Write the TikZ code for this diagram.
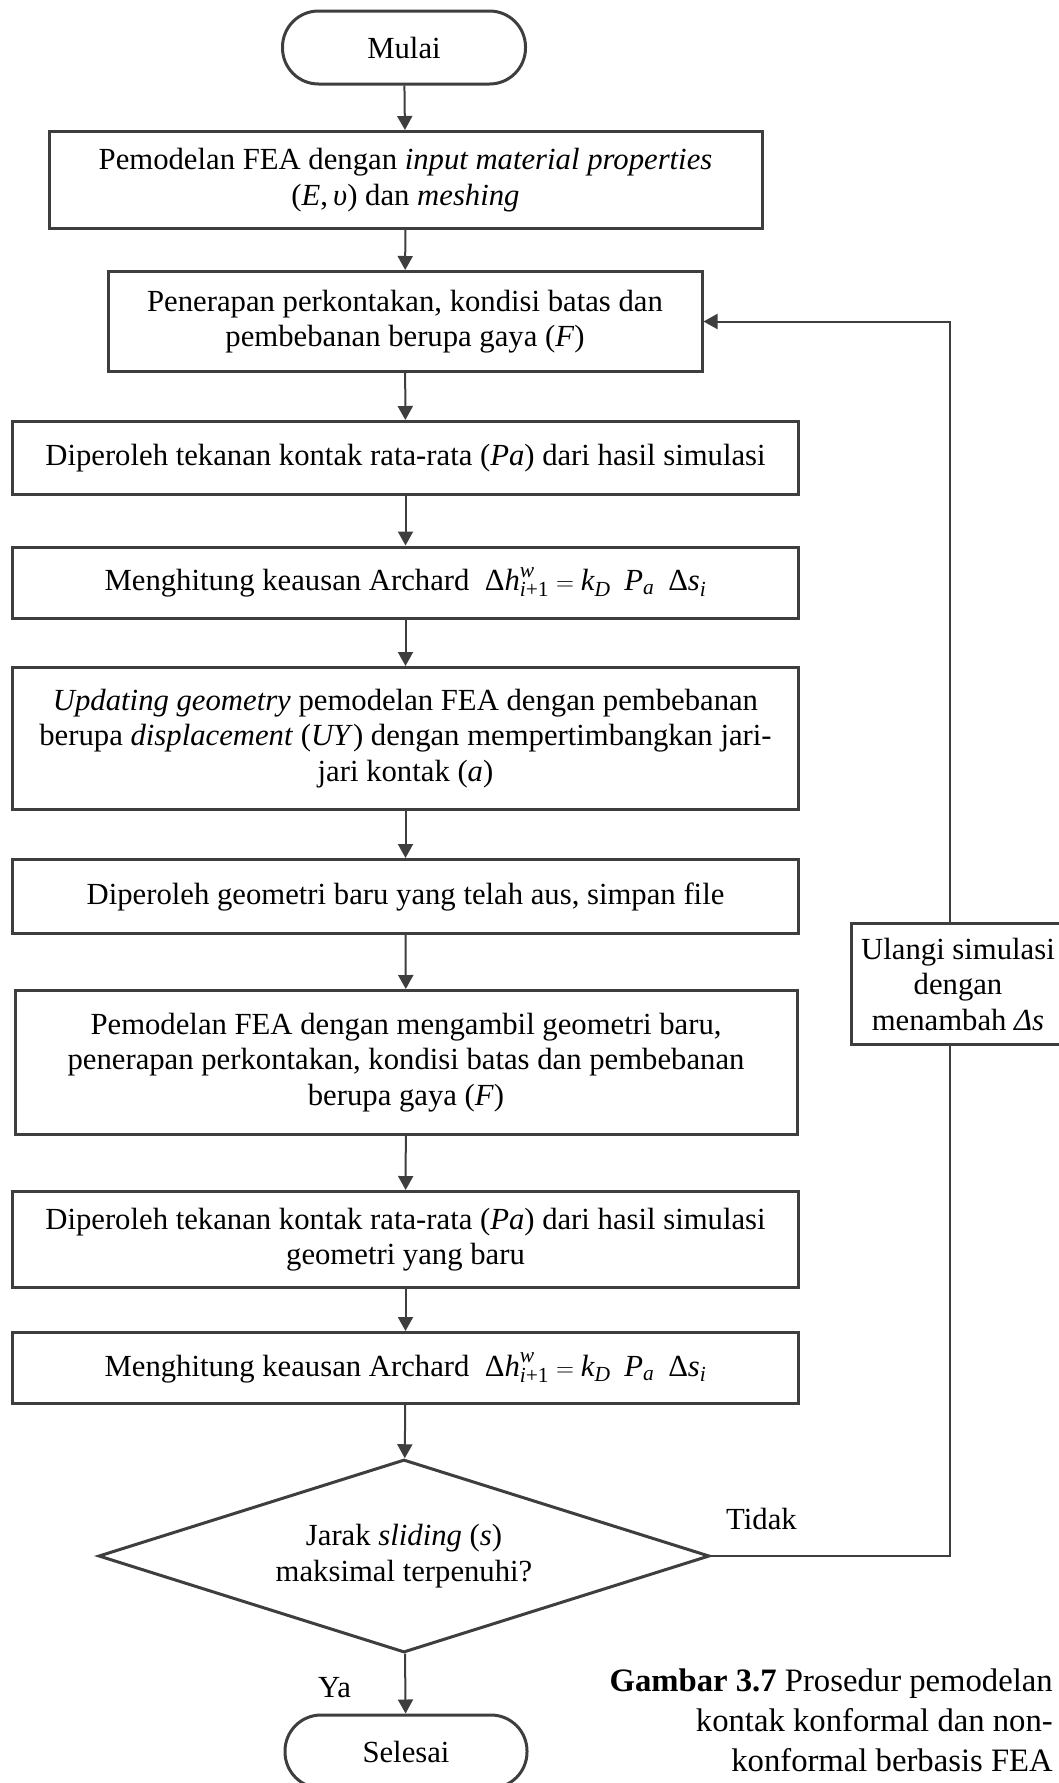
\documentclass[tikz,border=0pt]{standalone}
\usepackage{amsmath}
\usepackage{fontspec}
\setmainfont{Liberation Serif}
\usetikzlibrary{arrows.meta,shapes.geometric}
\definecolor{lc}{RGB}{62,62,62}
\newcommand\archform{$\text{Δ}\textit{h}^{\textit{w}}_{\textit{i}\text{+1}} = \textit{k}_{\textit{D}}\;\;\textit{P}_{\textit{a}}\;\;\text{Δ}\textit{s}_{\textit{i}}$}
\begin{document}
\begin{tikzpicture}[x=1pt,y=-1pt,
  every node/.style={font=\fontsize{30.7}{35.5}\selectfont, text=black},
  proc/.style={draw=lc, line width=3pt, align=center, inner sep=0pt},
  term/.style={draw=lc, line width=3pt, rounded corners=36pt, align=center, inner sep=0pt, minimum width=243pt, minimum height=73pt},
  decide/.style={draw=lc, line width=3pt, shape=diamond, aspect=3.166, align=center, inner sep=0pt},
  arr/.style={draw=lc, line width=2pt, -{Triangle[width=15pt,length=14pt]}},
  lbl/.style={inner sep=0pt, anchor=base west},
]
\useasboundingbox (0,0) rectangle (1059,1783);

\node[term] (start) at (404,47.5) {Mulai};
\node[proc, minimum width=713pt, minimum height=97pt] (b1) at (405.5,180)
  {Pemodelan FEA dengan \textit{input material properties}\\(\textit{E},\,\textit{υ}) dan \textit{meshing}};
\node[proc, minimum width=594pt, minimum height=100pt] (b2) at (405,321.5)
  {Penerapan perkontakan, kondisi batas dan\\pembebanan berupa gaya (\textit{F})};
\node[proc, minimum width=786pt, minimum height=73pt] (b3) at (405.5,458)
  {Diperoleh tekanan kontak rata-rata (\textit{Pa}) dari hasil simulasi};
\node[proc, minimum width=786pt, minimum height=71pt] (b4) at (405.5,582.5)
  {Menghitung keausan Archard \ \archform};
\node[proc, minimum width=786pt, minimum height=142pt] (b5) at (405.5,738.5)
  {\textit{Updating geometry} pemodelan FEA dengan pembebanan\\berupa \textit{displacement} (\textit{UY}) dengan mempertimbangkan jari-\\jari kontak (\textit{a})};
\node[proc, minimum width=786pt, minimum height=74pt] (b6) at (405.5,896.5)
  {Diperoleh geometri baru yang telah aus, simpan file};
\node[proc, minimum width=782pt, minimum height=144pt] (b7) at (406,1062.5)
  {Pemodelan FEA dengan mengambil geometri baru,\\penerapan perkontakan, kondisi batas dan pembebanan\\berupa gaya (\textit{F})};
\node[proc, minimum width=786pt, minimum height=96pt] (b8) at (405.5,1239.5)
  {Diperoleh tekanan kontak rata-rata (\textit{Pa}) dari hasil simulasi\\geometri yang baru};
\node[proc, minimum width=786pt, minimum height=71pt] (b9) at (405.5,1368)
  {Menghitung keausan Archard \ \archform};
\node[decide, minimum width=611pt, minimum height=193pt] (dec) at (404,1556)
  {Jarak \textit{sliding} (\textit{s})\\maksimal terpenuhi?};
\node[term, minimum width=242pt] (stop) at (406,1751.5) {Selesai};

\draw[arr] (start) -- (b1);
\draw[arr] (b1) -- (b2);
\draw[arr] (b2) -- (b3);
\draw[arr] (b3) -- (b4);
\draw[arr] (b4) -- (b5);
\draw[arr] (b5) -- (b6);
\draw[arr] (b6) -- (b7);
\draw[arr] (b7) -- (b8);
\draw[arr] (b8) -- (b9);
\draw[arr] (b9) -- (dec);
\draw[arr] (dec) -- (stop);

\coordinate (lp) at (950,1556);
\draw[arr] (dec.east) -- (lp) |- (b2.east);

\node[draw=lc, line width=3pt, fill=white, align=center, inner sep=0pt,
  minimum width=214pt, minimum height=121pt] (side) at (958,984)
  {Ulangi simulasi\\dengan\\menambah \textit{Δs}};

\node[lbl] (tidak) at (726,1529) {Tidak};
\node[lbl] (ya) at (318,1697) {Ya};

\node[inner sep=0pt, anchor=north east, align=right, font=\fontsize{32.7}{40}\selectfont] (cap) at (1053,1669)
  {\textbf{Gambar 3.7} Prosedur pemodelan\\kontak konformal dan non-\\konformal berbasis FEA};
\end{tikzpicture}
\end{document}
